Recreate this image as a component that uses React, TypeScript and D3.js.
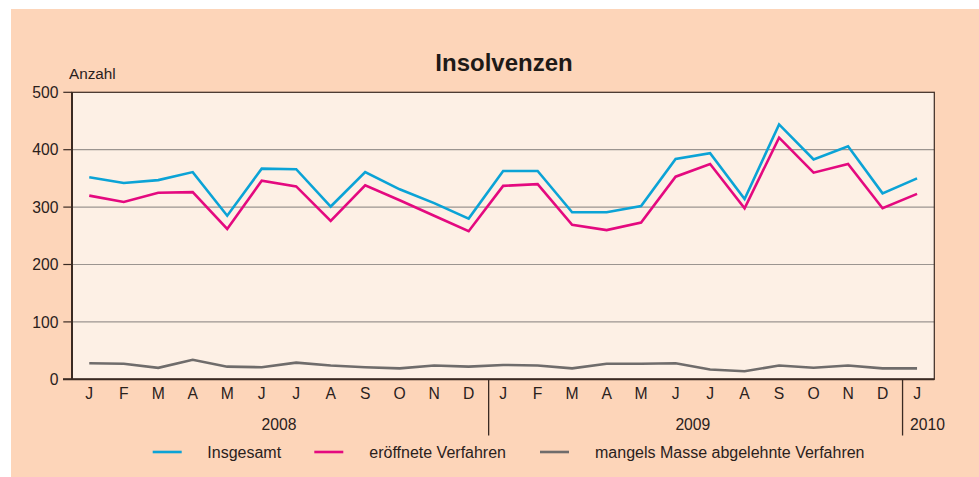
import React from "react";
import * as d3 from "d3";

const months = ["J","F","M","A","M","J","J","A","S","O","N","D","J","F","M","A","M","J","J","A","S","O","N","D","J"];
const years = [
  { label: "2008", start: 0, end: 11 },
  { label: "2009", start: 12, end: 23 },
  { label: "2010", start: 24, end: 24 },
];
const insgesamt = [352,342,347,361,285,367,366,301,361,331,307,280,363,363,291,291,302,384,394,314,444,383,406,324,350];
const eroeffnet = [320,309,325,326,262,346,336,276,338,312,285,258,337,340,269,260,273,353,375,298,421,360,375,298,323];
const mangels = [28,27,20,34,22,21,29,24,21,19,24,22,25,24,19,27,27,28,17,14,24,20,24,19,19];
const yTicks = [0,100,200,300,400,500];
const seriesNames = ["Insgesamt","eröffnete Verfahren","mangels Masse abgelehnte Verfahren"];

const colors = ["#0ba3d6","#e4097f","#6f6c6b"];
const FONT = "Arial, 'Liberation Sans', Helvetica, sans-serif";

export default function App() {
  const W = 979, H = 477;
  const left = 72, right = 934.3, top = 92.3, bottom = 379.3;
  const x = d3.scaleBand<number>().domain(d3.range(months.length)).range([left, right]);
  const cx = (i: number) => (x(i) as number) + x.bandwidth() / 2;
  const y = d3.scaleLinear().domain([0, 500]).range([bottom, top]);
  const line = d3.line<number>().x((_, i) => cx(i)).y((d) => y(d));
  const data = [insgesamt, eroeffnet, mangels];
  const sepX = (i: number) => cx(i) - 14.5;
  const legendX = [152.7, 314.3, 540];
  const legendTextX = [207.3, 369.3, 595];
  const axisColor = "#3a2a22";

  return (
    <svg width={W} height={H} style={{ position: "absolute", left: 0, top: 0 }} fontFamily={FONT}>
      <rect x={0} y={0} width={W} height={H} fill="#ffffff" />
      <rect x={11} y={9} width={W - 11} height={H - 9} fill="#fdd5b9" />
      <rect x={left} y={top} width={right - left} height={bottom - top} fill="#fdf0e5" />
      <text x={504} y={71} textAnchor="middle" fontSize={24} fontWeight="bold" fill="#1e1a17">Insolvenzen</text>
      <text x={69} y={79} fontSize={15.3} fill="#2a211c">Anzahl</text>
      {yTicks.map((t) => (
        <g key={t}>
          {t > 0 && t < 500 && (
            <line x1={left} x2={right} y1={y(t)} y2={y(t)} stroke="#9b9590" strokeWidth={1.2} />
          )}
          <line x1={63.3} x2={left} y1={y(t)} y2={y(t)} stroke={axisColor} strokeWidth={1.2} />
          <text x={58.5} y={y(t)} dy="0.36em" textAnchor="end" fontSize={15.7} fill="#2a211c">{t}</text>
        </g>
      ))}
      <rect x={left} y={top} width={right - left} height={bottom - top} fill="none" stroke={axisColor} strokeWidth={1.2} />
      <line x1={left} x2={left} y1={top} y2={bottom} stroke={axisColor} strokeWidth={2} />
      <line x1={left - 9} x2={right} y1={bottom} y2={bottom} stroke={axisColor} strokeWidth={2} />
      {data.map((d, k) => (
        <path key={k} d={line(d) || ""} fill="none" stroke={colors[k]} strokeWidth={2.6} strokeLinejoin="miter" />
      ))}
      {months.map((m, i) => (
        <text key={i} x={cx(i)} y={393} dy="0.36em" textAnchor="middle" fontSize={15.7} fill="#2a211c">{m}</text>
      ))}
      {[12, 24].map((i) => (
        <line key={i} x1={sepX(i)} x2={sepX(i)} y1={bottom} y2={435.5} stroke={axisColor} strokeWidth={1.3} />
      ))}
      {years.map((yr, k) =>
        yr.start === yr.end ? (
          <text key={k} x={sepX(yr.start) + 7.5} y={424} dy="0.36em" fontSize={15.7} fill="#2a211c">{yr.label}</text>
        ) : (
          <text key={k} x={(cx(yr.start) + cx(yr.end)) / 2} y={424} dy="0.36em" textAnchor="middle" fontSize={15.7} fill="#2a211c">{yr.label}</text>
        )
      )}
      {seriesNames.map((n, k) => (
        <g key={k}>
          <line x1={legendX[k]} x2={legendX[k] + 29} y1={452} y2={452} stroke={colors[k]} strokeWidth={2.6} />
          <text x={legendTextX[k]} y={452} dy="0.36em" fontSize={16} fill="#2a211c">{n}</text>
        </g>
      ))}
    </svg>
  );
}
